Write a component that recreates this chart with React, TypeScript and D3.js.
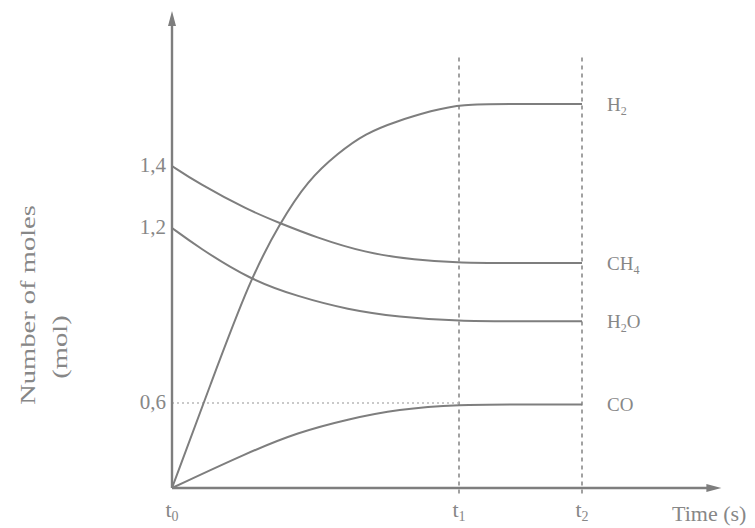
import React from "react";
import * as d3 from "d3";

// ---- data ----
const timeTicks = [0, 7, 10];
const timeTickLabels = ["0", "1", "2"]; // subscripts of t
const yTickValues = [0.6, 1.2, 1.4];
const yTickLabels = ["0,6", "1,2", "1,4"];

const h2Time = [0, 0.95, 1.9, 2.63, 3.32, 4.05, 4.71, 5.51, 6.34, 7, 8.5, 10];
const h2Moles = [0, 0.668, 1.023, 1.216, 1.355, 1.483, 1.61, 1.692, 1.756, 1.8, 1.8, 1.8];

const ch4Time = [0, 0.63, 1.85, 2.63, 3.49, 4.71, 5.93, 7, 8.5, 10];
const ch4Moles = [1.4, 1.345, 1.258, 1.216, 1.169, 1.115, 1.09, 1.08, 1.08, 1.08];

const h2oTime = [0, 0.63, 1.9, 3.07, 4.29, 5.51, 7, 8.5, 10];
const h2oMoles = [1.2, 1.135, 1.023, 0.965, 0.92, 0.895, 0.88, 0.88, 0.88];

const coTime = [0, 1.85, 3.07, 4.29, 5.51, 7, 8.5, 10];
const coMoles = [0, 0.25, 0.393, 0.486, 0.557, 0.59, 0.59, 0.59];

const seriesNames = [
  ["H", "2", ""],
  ["CH", "4", ""],
  ["H", "2", "O"],
  ["CO", "", ""],
];

const W = 755;
const H = 528;

export default function App() {
  const x = d3.scaleLinear().domain([0, 10]).range([172, 582]);
  // schematic (non-uniform) vertical axis, as in the original sketch
  const y = d3
    .scaleLinear()
    .domain([0, 0.6, 1.2, 1.4, 1.8])
    .range([488, 403, 228, 166, 104]);

  const line = d3
    .line<[number, number]>()
    .x((d) => x(d[0]))
    .y((d) => y(d[1]))
    .curve(d3.curveBasis);

  const series = [
    { t: h2Time, v: h2Moles },
    { t: ch4Time, v: ch4Moles },
    { t: h2oTime, v: h2oMoles },
    { t: coTime, v: coMoles },
  ];

  const stroke = "#7e7e7e";
  const textFill = "#878787";
  const font = "'Liberation Serif', 'DejaVu Serif', serif";

  const x0 = x(0);
  const y0 = y(0);
  const xEnd = x(13.4);
  const yTop = y(2.4);
  const dashTop = y(2.1);

  return (
    <svg
      width={W}
      height={H}
      style={{ position: "fixed", left: 0, top: 0, background: "#fff" }}
      fontFamily={font}
    >
      {/* dashed verticals at t1, t2 */}
      {timeTicks.slice(1).map((t, i) => (
        <line
          key={"v" + i}
          x1={x(t)}
          x2={x(t)}
          y1={dashTop}
          y2={y0 + 6}
          stroke="#8a8a8a"
          strokeWidth={1.6}
          strokeDasharray="4,4"
        />
      ))}

      {/* dotted guide at 0,6 */}
      <line
        x1={x0}
        x2={x(7)}
        y1={y(0.6)}
        y2={y(0.6)}
        stroke="#b8b8b8"
        strokeWidth={1.5}
        strokeDasharray="2,3"
      />

      {/* curves */}
      {series.map((s, i) => (
        <path
          key={"s" + i}
          d={line(s.t.map((t, j) => [t, s.v[j]] as [number, number])) || ""}
          fill="none"
          stroke={stroke}
          strokeWidth={2}
        />
      ))}

      {/* axes */}
      <line x1={x0} x2={x0} y1={y0} y2={yTop + 12} stroke={stroke} strokeWidth={2.4} />
      <path
        d={`M${x0},${yTop} L${x0 - 4},${yTop + 15} L${x0 + 4},${yTop + 15} Z`}
        fill={stroke}
      />
      <line x1={x0} x2={xEnd - 12} y1={y0} y2={y0} stroke={stroke} strokeWidth={2.4} />
      <path
        d={`M${xEnd},${y0} L${xEnd - 15},${y0 - 4} L${xEnd - 15},${y0 + 4} Z`}
        fill={stroke}
      />

      {/* y tick labels */}
      {yTickValues.map((v, i) => (
        <text
          key={"yt" + i}
          x={x0 - 6}
          y={y(v)}
          dy="0.3em"
          textAnchor="end"
          fontSize={21}
          fill={textFill}
        >
          {yTickLabels[i]}
        </text>
      ))}

      {/* time tick labels */}
      {timeTicks.map((t, i) => (
        <text
          key={"xt" + i}
          x={x(t)}
          y={517}
          textAnchor="middle"
          fontSize={22}
          fill={textFill}
        >
          t
          <tspan fontSize={14} dy={4}>
            {timeTickLabels[i]}
          </tspan>
        </text>
      ))}
      <text x={672} y={521} fontSize={22} fill={textFill}>
        Time (s)
      </text>

      {/* series labels */}
      {series.map((s, i) => (
        <text
          key={"l" + i}
          x={607}
          y={y(s.v[s.v.length - 1])}
          dy="0.35em"
          fontSize={19}
          fill={textFill}
        >
          {seriesNames[i][0]}
          {seriesNames[i][1] && (
            <tspan fontSize={12} dy={4}>
              {seriesNames[i][1]}
            </tspan>
          )}
          {seriesNames[i][2] && <tspan dy={-4}>{seriesNames[i][2]}</tspan>}
        </text>
      ))}

      {/* y axis title */}
      <text
        transform={`translate(35,305) scale(1,1.36) rotate(-90)`}
        textAnchor="middle"
        fontSize={21}
        fill={textFill}
      >
        Number of moles
      </text>
      <text
        transform={`translate(67,347) scale(1,1.36) rotate(-90)`}
        textAnchor="middle"
        fontSize={21}
        fill={textFill}
      >
        (mol)
      </text>
    </svg>
  );
}
